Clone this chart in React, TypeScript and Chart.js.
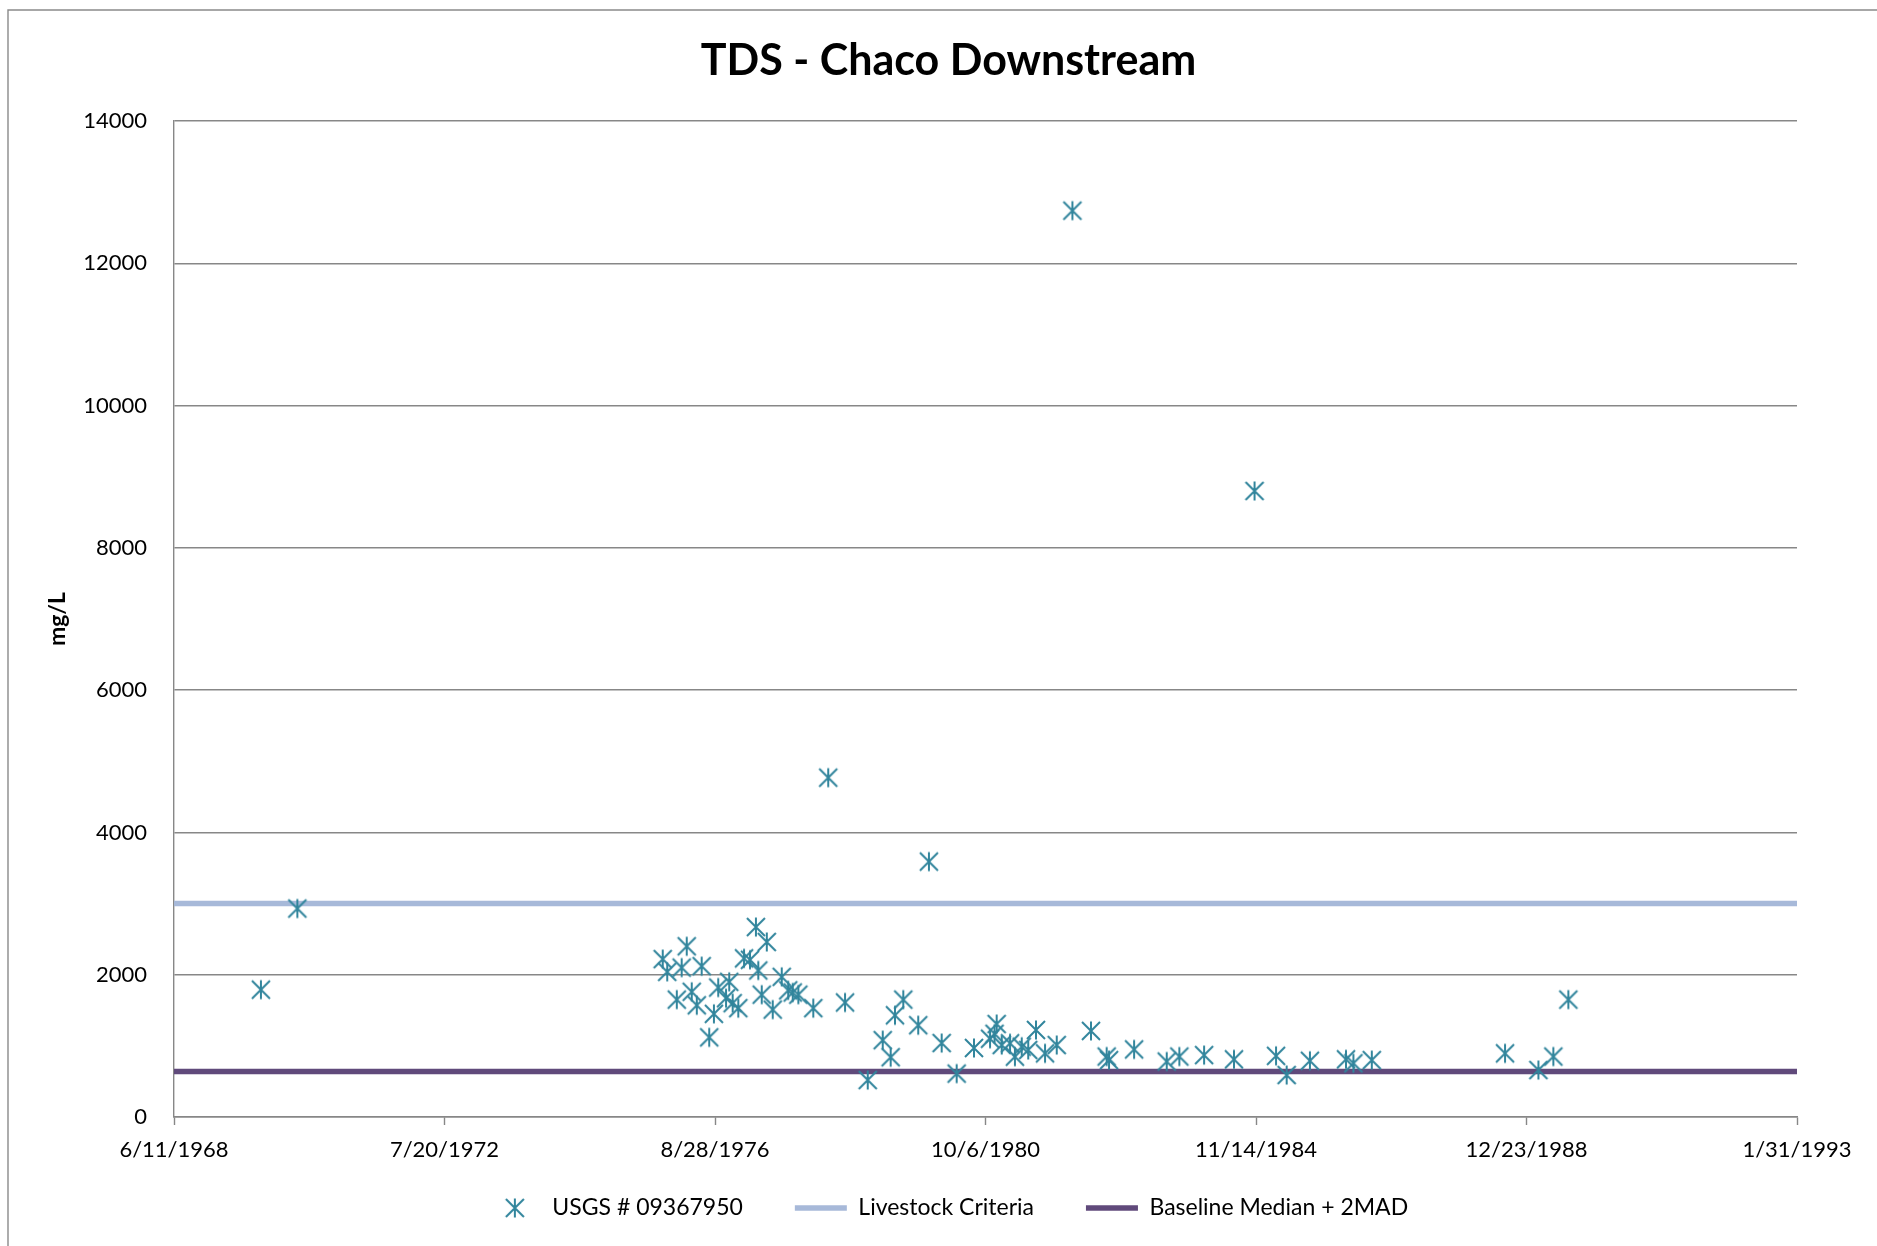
import React, { useEffect, useRef } from 'react';
import { Chart, registerables } from 'chart.js';

Chart.register(...registerables);

// Axis settings (x in Excel serial day numbers)
const X_MIN = 25000; // 6/11/1968
const X_MAX = 34000; // 1/31/1993
const X_STEP = 1500;
const Y_MIN = 0;
const Y_MAX = 14000;
const Y_STEP = 2000;

const chartTitle = 'TDS - Chaco Downstream';
const yAxisTitle = 'mg/L';
const seriesNames = ['USGS # 09367950', 'Livestock Criteria', 'Baseline Median + 2MAD'];

// Sample dates (Excel serial day numbers) and TDS values (mg/L)
const sampleDates = [
  25482, 25684,
  27710, 27735, 27788, 27815, 27843, 27871, 27899, 27926, 27968, 27994,
  28018, 28061, 28079, 28098, 28129, 28161, 28194, 28227, 28240, 28259,
  28287, 28320, 28370, 28406, 28431, 28462, 28545, 28628, 28721, 28847,
  28930, 28974, 28998, 29044, 29127, 29186, 29257, 29340, 29436, 29525,
  29550, 29562, 29590, 29636, 29663, 29701, 29737, 29780, 29830, 29895,
  29982, 30085, 30172, 30185, 30324, 30505, 30575, 30712, 30878, 30992,
  31111, 31170, 31299, 31499, 31540, 31642, 32381, 32566, 32649, 32732,
];
const tdsValues = [
  1790, 2930,
  2220, 2040, 1650, 2100, 2400, 1760, 1570, 2120, 1120, 1450,
  1820, 1670, 1900, 1600, 1530, 2230, 2210, 2670, 2060, 1720,
  2460, 1510, 1970, 1780, 1750, 1720, 1530, 4770, 1610, 520,
  1080, 840, 1430, 1650, 1290, 3590, 1040, 610, 970, 1100,
  1170, 1307, 1012, 1036, 848, 988, 942, 1223, 895, 1012,
  12740, 1210, 850, 800, 950, 780, 850, 870, 810, 8800,
  860, 590, 790, 810, 755, 800, 895, 660, 850, 1650,
];

const criteriaDates = [X_MIN, X_MAX];
const livestockValues = [3000, 3000];
const baselineValues = [640, 640];

const MARKER_COLOR = '#31859C';
const LIVESTOCK_COLOR = '#A7B9D9';
const BASELINE_COLOR = '#604A7B';
const GRID_COLOR = '#878787';
const FONT = 'Lato, "Open Sans", sans-serif';
const LEGEND_PAD = 52;
const LEGEND_SHIFT = 19.5;

function serialToLabel(v: number): string {
  const d = new Date(Math.round((v - 25569) * 86400000));
  return `${d.getUTCMonth() + 1}/${d.getUTCDate()}/${d.getUTCFullYear()}`;
}

function makeStar(): HTMLCanvasElement {
  const c = document.createElement('canvas');
  c.width = 22;
  c.height = 22;
  const g = c.getContext('2d')!;
  g.strokeStyle = MARKER_COLOR;
  g.lineWidth = 2;
  g.beginPath();
  g.moveTo(11, 1.5);
  g.lineTo(11, 20.5);
  g.moveTo(2, 2);
  g.lineTo(20, 20);
  g.moveTo(20, 2);
  g.lineTo(2, 20);
  g.stroke();
  return c;
}

const borderPlugin = {
  id: 'outerBorder',
  beforeDraw(chart: any) {
    const ctx = chart.ctx;
    ctx.save();
    ctx.strokeStyle = '#8a8a8a';
    ctx.lineWidth = 1.4;
    ctx.beginPath();
    ctx.moveTo(8, chart.height);
    ctx.lineTo(8, 10);
    ctx.lineTo(chart.width, 10);
    ctx.stroke();
    ctx.restore();
  },
};

// Moves the legend box up a little so it sits where the reference has it
const legendShiftPlugin = {
  id: 'legendShift',
  afterLayout(chart: any) {
    const lg = chart.legend;
    if (lg) {
      lg.top -= LEGEND_SHIFT;
      lg.bottom -= LEGEND_SHIFT;
    }
  },
};

export default function App() {
  const ref = useRef<HTMLCanvasElement | null>(null);

  useEffect(() => {
    if (!ref.current) return;
    const star = makeStar();
    const chart = new Chart(ref.current, {
      type: 'scatter',
      data: {
        datasets: [
          {
            label: seriesNames[0],
            data: sampleDates.map((d, i) => ({ x: d, y: tdsValues[i] })),
            pointStyle: star as any,
            pointRadius: 10,
            borderColor: MARKER_COLOR,
            backgroundColor: MARKER_COLOR,
            showLine: false,
            xAxisID: 'x',
            yAxisID: 'y',
          },
          {
            label: seriesNames[1],
            data: criteriaDates.map((d, i) => ({ x: d, y: livestockValues[i] })),
            showLine: true,
            borderColor: LIVESTOCK_COLOR,
            backgroundColor: LIVESTOCK_COLOR,
            borderWidth: 5.5,
            pointRadius: 0,
            pointHoverRadius: 0,
            pointStyle: 'line',
            pointBorderWidth: 5.5,
            pointBorderColor: LIVESTOCK_COLOR,
            xAxisID: 'x',
            yAxisID: 'y',
          } as any,
          {
            label: seriesNames[2],
            data: criteriaDates.map((d, i) => ({ x: d, y: baselineValues[i] })),
            showLine: true,
            borderColor: BASELINE_COLOR,
            backgroundColor: BASELINE_COLOR,
            borderWidth: 5.5,
            pointRadius: 0,
            pointHoverRadius: 0,
            pointStyle: 'line',
            pointBorderWidth: 5.5,
            pointBorderColor: BASELINE_COLOR,
            xAxisID: 'x',
            yAxisID: 'y',
          } as any,
        ],
      },
      options: {
        responsive: false,
        animation: false,
        devicePixelRatio: 1,
        layout: { padding: { left: 20, top: 10, right: 0, bottom: -3 } },
        plugins: {
          title: {
            display: true,
            text: chartTitle,
            color: '#000',
            font: { family: FONT, size: 43, weight: 'bold' },
            padding: { top: 25, bottom: 34.4 },
          },
          legend: {
            display: true,
            position: 'bottom',
            labels: {
              usePointStyle: true,
              pointStyleWidth: 52,
              padding: LEGEND_PAD,
              color: '#000',
              font: { family: FONT, size: 23 },
            },
          },
          tooltip: { enabled: false },
        },
        scales: {
          x: {
            type: 'linear',
            position: 'bottom',
            min: X_MIN,
            max: X_MAX,
            ticks: {
              stepSize: X_STEP,
              autoSkip: false,
              maxRotation: 0,
              padding: 12,
              color: '#000',
              font: { family: FONT, size: 22 },
              callback: (v: any) => serialToLabel(Number(v)),
            },
            grid: {
              display: true,
              drawOnChartArea: false,
              drawTicks: true,
              tickLength: 8,
              tickColor: GRID_COLOR,
              tickWidth: 1.4,
            },
            border: { display: true, color: GRID_COLOR, width: 1.4 },
            afterFit: (s: any) => {
              s.height = 47;
            },
          },
          y: {
            type: 'linear',
            position: 'left',
            min: Y_MIN,
            max: Y_MAX,
            ticks: {
              stepSize: Y_STEP,
              padding: 27,
              color: '#000',
              font: { family: FONT, size: 22 },
              callback: (v: any) => String(v),
            },
            grid: {
              display: true,
              drawTicks: false,
              color: GRID_COLOR,
              lineWidth: 1.4,
            },
            border: { display: true, color: GRID_COLOR, width: 1.4 },
            title: {
              display: true,
              text: yAxisTitle,
              color: '#000',
              font: { family: FONT, size: 23, weight: 'bold' },
              padding: { top: 24, bottom: 0 },
            },
            afterFit: (s: any) => {
              s.width = 154;
            },
          },
          yR: {
            type: 'linear',
            position: 'right',
            display: true,
            grid: { display: false },
            border: { display: false },
            ticks: { display: false },
            afterFit: (s: any) => {
              s.width = 80;
            },
          },
        },
      } as any,
      plugins: [borderPlugin, legendShiftPlugin],
    });
    return () => chart.destroy();
  }, []);

  return (
    <div style={{ position: 'absolute', left: 0, top: 0, width: 1877, height: 1246, overflow: 'hidden', background: '#fff' }}>
      <canvas ref={ref} width={1877} height={1246} style={{ display: 'block', width: 1877, height: 1246 }} />
    </div>
  );
}
